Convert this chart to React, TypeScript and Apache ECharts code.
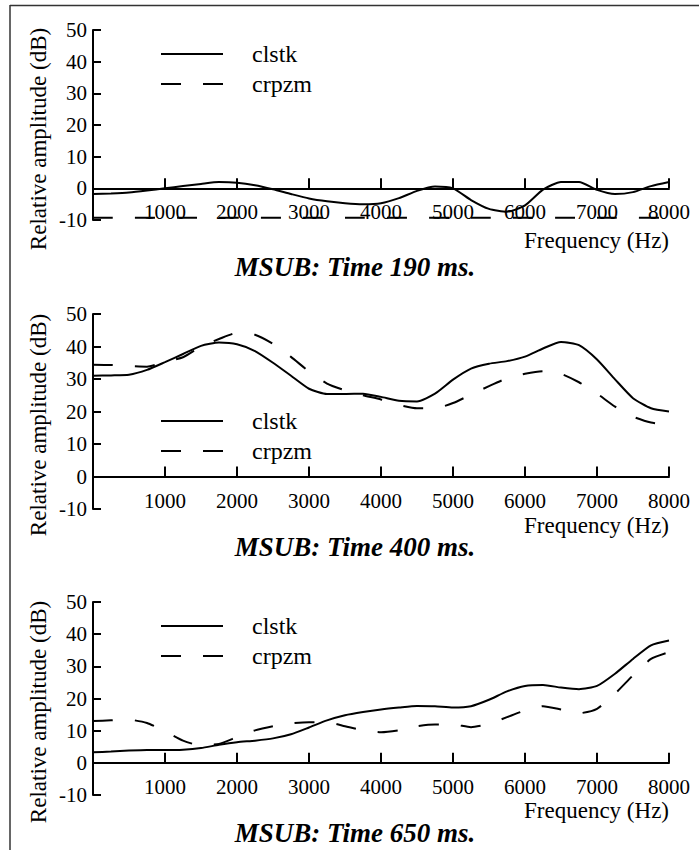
import React, { useEffect, useRef } from "react";
import * as echarts from "echarts";

const freqs = [0, 250, 500, 750, 1000, 1250, 1500, 1750, 2000, 2250, 2500, 2750, 3000, 3250, 3500, 3750, 4000, 4250, 4500, 4750, 5000, 5250, 5500, 5750, 6000, 6250, 6500, 6750, 7000, 7250, 7500, 7750, 8000];

const clstk190 = [-1.8, -1.6, -1.3, -0.7, 0, 0.7, 1.4, 2.0, 1.8, 1.0, -0.3, -1.8, -3.2, -4.1, -4.7, -5.0, -4.7, -3.1, -0.8, 0.6, 0, -3.7, -6.5, -7.4, -5.4, -0.4, 2.0, 2.0, -0.5, -1.8, -1.2, 0.7, 2.0];
const crpzm190 = [-9.3, -9.3, -9.3, -9.3, -9.3, -9.3, -9.3, -9.3, -9.3, -9.3, -9.3, -9.3, -9.3, -9.3, -9.3, -9.3, -9.3, -9.3, -9.3, -9.3, -9.3, -9.3, -9.3, -9.3, -9.3, -9.3, -9.3, -9.3, -9.3, -9.3, -9.3, -9.3, -9.3];

const clstk400 = [31.0, 31.1, 31.3, 32.8, 35.2, 37.7, 40.2, 41.2, 40.7, 38.6, 35.0, 31.0, 27.0, 25.4, 25.4, 25.5, 24.5, 23.3, 23.1, 25.5, 29.8, 33.2, 34.7, 35.5, 36.9, 39.4, 41.4, 40.4, 36.0, 29.9, 24.1, 21.0, 20.0];
const crpzm400 = [34.4, 34.3, 34.0, 33.8, 35.3, 36.7, 40.0, 42.3, 44.2, 43.6, 40.8, 36.8, 32.3, 28.6, 26.5, 25.0, 23.7, 22.0, 21.0, 21.0, 22.6, 25.2, 27.8, 30.2, 31.6, 32.4, 31.6, 29.0, 25.5, 21.5, 18.4, 16.6, 15.9];

const clstk650 = [3.3, 3.5, 3.8, 4.0, 4.0, 4.1, 4.6, 5.6, 6.4, 6.9, 7.6, 8.9, 11.0, 13.2, 14.8, 15.8, 16.6, 17.2, 17.7, 17.6, 17.2, 17.6, 19.6, 22.2, 23.9, 24.2, 23.4, 22.9, 23.9, 27.7, 32.3, 36.5, 38.0];
const crpzm650 = [13.0, 13.2, 13.4, 12.4, 9.8, 6.9, 5.4, 5.9, 8.0, 10.1, 11.4, 12.3, 12.6, 12.6, 11.4, 10.1, 9.5, 10.1, 11.4, 11.9, 11.9, 11.1, 12.1, 14.2, 16.3, 17.6, 16.6, 15.4, 16.8, 21.5, 27.2, 32.3, 34.4];

const seriesNames = ["clstk", "crpzm"];
const panelTitles = ["MSUB: Time 190 ms.", "MSUB: Time 400 ms.", "MSUB: Time 650 ms."];
const xTicks = [0, 1000, 2000, 3000, 4000, 5000, 6000, 7000, 8000];
const yTicks = [-10, 0, 10, 20, 30, 40, 50];
const xAxisName = "Frequency (Hz)";
const yAxisName = "Relative amplitude (dB)";

const panels = [
  { clstk: clstk190, crpzm: crpzm190 },
  { clstk: clstk400, crpzm: crpzm400 },
  { clstk: clstk650, crpzm: crpzm650 },
];

const FONT = "Times New Roman";

// layout (pixels)
const GRID_LEFT = 93;
const GRID_RIGHT = 30;
const TICK_PX = 10;
const gridTops = [30, 314, 602];
const gridHeights = [190, 195, 193];
const legendTops = [42, 409, 614];
const titleYs = [267, 547, 833];
const xNameYs = [240, 525, 810];
const yNameYs = [139, 425, 712];

export default function App() {
  const ref = useRef<HTMLDivElement>(null);
  useEffect(() => {
    if (!ref.current) return;
    const chart = echarts.init(ref.current, null, { renderer: "svg" });

    const grid: any[] = [];
    const xAxis: any[] = [];
    const yAxis: any[] = [];
    const series: any[] = [];
    const legend: any[] = [];
    const graphic: any[] = [];

    const yMin = yTicks[0];
    const yMax = yTicks[yTicks.length - 1];
    const xMin = xTicks[0];
    const xMax = xTicks[xTicks.length - 1];

    panels.forEach((p, i) => {
      grid.push({ left: GRID_LEFT, right: GRID_RIGHT, top: gridTops[i], height: gridHeights[i], containLabel: false });
      // label axis (grid bottom, labels pulled up just under the zero line)
      xAxis.push({
        type: "value",
        gridIndex: i,
        min: xMin,
        max: xMax,
        interval: 1000,
        axisLine: { show: false, onZero: false },
        axisTick: { show: false },
        axisLabel: {
          showMinLabel: false,
          margin: -19,
          color: "#000",
          fontFamily: FONT,
          fontSize: 21,
          formatter: (v: number) => String(v),
        },
        splitLine: { show: false },
      });
      // zero-line axis with upward ticks
      const zeroDist = (gridHeights[i] * (0 - yMin)) / (yMax - yMin);
      xAxis.push({
        type: "value",
        gridIndex: i,
        position: "bottom",
        offset: -zeroDist,
        min: xMin,
        max: xMax,
        interval: 1000,
        axisLine: { show: true, onZero: false, lineStyle: { color: "#000", width: 2 } },
        axisTick: { show: true, inside: true, length: TICK_PX, lineStyle: { color: "#000", width: 2 } },
        axisLabel: { show: false },
        splitLine: { show: false },
      });
      yAxis.push({
        type: "value",
        gridIndex: i,
        min: yMin,
        max: yMax,
        interval: 10,
        axisLine: { show: true, onZero: false, lineStyle: { color: "#000", width: 2 } },
        axisTick: { show: true, inside: true, length: 8, lineStyle: { color: "#000", width: 2 } },
        axisLabel: { margin: 6, color: "#000", fontFamily: FONT, fontSize: 21 },
        splitLine: { show: false },
      });
      series.push({
        type: "line",
        name: seriesNames[0],
        xAxisIndex: i * 2,
        yAxisIndex: i,
        data: freqs.map((f, j) => [f, p.clstk[j]]),
        showSymbol: false,
        symbol: "none",
        smooth: 0.2,
        lineStyle: { color: "#000", width: 2, type: "solid" },
        itemStyle: { color: "#000" },
        z: 3,
      });
      series.push({
        type: "line",
        name: seriesNames[1],
        xAxisIndex: i * 2,
        yAxisIndex: i,
        data: freqs.map((f, j) => [f, p.crpzm[j]]),
        showSymbol: false,
        symbol: "none",
        smooth: 0.2,
        lineStyle: { color: "#000", width: 2, type: [20, 22] },
        itemStyle: { color: "#000" },
        z: 3,
      });
      legend.push({
        data: seriesNames,
        orient: "vertical",
        left: 160,
        top: legendTops[i],
        padding: 0,
        itemWidth: 62,
        itemHeight: 20,
        itemGap: 6,
        selectedMode: false,
        itemStyle: { opacity: 0 },
        textStyle: { fontFamily: FONT, fontSize: 24, color: "#000", padding: [0, 0, 0, 24], lineHeight: 20 },
      });
      graphic.push({
        type: "text",
        x: 355,
        y: titleYs[i],
        style: {
          text: panelTitles[i],
          align: "center",
          verticalAlign: "middle",
          fontFamily: FONT,
          fontSize: 27,
          fontStyle: "italic",
          fontWeight: "bold",
          fill: "#000",
        },
      });
      graphic.push({
        type: "text",
        x: 669,
        y: xNameYs[i],
        style: {
          text: xAxisName,
          align: "right",
          verticalAlign: "middle",
          fontFamily: FONT,
          fontSize: 23,
          fill: "#000",
        },
      });
      graphic.push({
        type: "text",
        x: 38,
        y: yNameYs[i],
        rotation: Math.PI / 2,
        style: {
          text: yAxisName,
          align: "center",
          verticalAlign: "middle",
          fontFamily: FONT,
          fontSize: 23,
          fill: "#000",
        },
      });
    });

    graphic.push({ type: "line", shape: { x1: 10, y1: 5.5, x2: 699, y2: 5.5 }, style: { stroke: "#333", lineWidth: 1.5 } });
    graphic.push({ type: "line", shape: { x1: 10, y1: 5, x2: 10, y2: 850 }, style: { stroke: "#333", lineWidth: 1.5 } });

    chart.setOption({
      animation: false,
      backgroundColor: "#fff",
      grid,
      xAxis,
      yAxis,
      series,
      legend,
      graphic,
    });
    return () => chart.dispose();
  }, []);
  return <div ref={ref} style={{ position: "absolute", left: 0, top: 0, width: 699, height: 850 }} />;
}
